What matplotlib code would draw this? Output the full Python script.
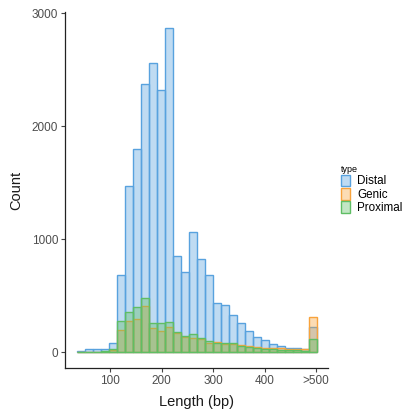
import numpy as np
import matplotlib
matplotlib.use('Agg')
import matplotlib.pyplot as plt
from matplotlib.patches import Patch
from matplotlib.colors import to_rgba

plt.rcParams['font.family'] = ['Liberation Sans', 'DejaVu Sans']

# 30 length bins (bp), last bin holds everything >500
bin_edges = np.linspace(36.3, 501.3, 31)

distal = [10, 32, 32, 32, 85, 684, 1468, 1795, 2375, 2563,
          2325, 2873, 852, 713, 1067, 823, 680, 434, 419, 327,
          262, 190, 133, 105, 70, 55, 42, 35, 27, 223]
genic = [2, 3, 3, 5, 20, 198, 277, 292, 412, 212,
         191, 228, 173, 133, 124, 115, 85, 94, 73, 75,
         68, 56, 48, 42, 37, 34, 31, 28, 25, 315]
proximal = [3, 5, 5, 8, 26, 277, 360, 398, 478, 260,
            257, 271, 182, 144, 159, 124, 103, 80, 80, 80,
            60, 44, 37, 30, 26, 20, 20, 17, 15, 118]

series = [('Distal', distal, '#58A2DE'),
          ('Genic', genic, '#F8A33C'),
          ('Proximal', proximal, '#5FBE64')]

x_ticks = [100, 200, 300, 400, 500]
x_tick_labels = ['100', '200', '300', '400', '>500']
y_ticks = [0, 1000, 2000, 3000]

fig = plt.figure(figsize=(4.06, 4.15), dpi=100)
ax = fig.add_axes([65 / 406, 1 - 368 / 415, (328 - 65) / 406, (368 - 12) / 415])

left = bin_edges[:-1]
width = np.diff(bin_edges)
for name, vals, col in series:
    ax.bar(left, vals, width=width, align='edge', color=to_rgba(col, 0.38),
           edgecolor=col, linewidth=1.0, label=name)

ax.set_xlim(12.6, 523)
ax.set_ylim(-139, 3011)
ax.set_xticks(x_ticks)
ax.set_xticklabels(x_tick_labels)
ax.set_yticks(y_ticks)

for side in ['top', 'right']:
    ax.spines[side].set_visible(False)
for side in ['left', 'bottom']:
    ax.spines[side].set_color('#222222')
    ax.spines[side].set_linewidth(0.9)
ax.tick_params(direction='out', length=3, width=0.8, color='#444444',
               labelsize=8.5, labelcolor='#4d4d4d', pad=2)

ax.set_xlabel('Length (bp)', fontsize=10.5, color='#1a1a1a', labelpad=6)
ax.set_ylabel('Count', fontsize=10.5, color='#1a1a1a', labelpad=6)

handles = [Patch(facecolor=to_rgba(c, 0.38), edgecolor=c, linewidth=1.0) for _, _, c in series]
leg = fig.legend(handles, [s[0] for s in series], loc='upper left',
                 bbox_to_anchor=(333 / 406, 1 - 157 / 415), frameon=False,
                 fontsize=8.4, title='type', title_fontsize=6.5,
                 handlelength=0.8, handleheight=1.15, labelspacing=0.05,
                 handletextpad=0.6, borderpad=0.2)
leg._legend_box.align = 'left'

fig.savefig('out.png', dpi=100, facecolor='white')
